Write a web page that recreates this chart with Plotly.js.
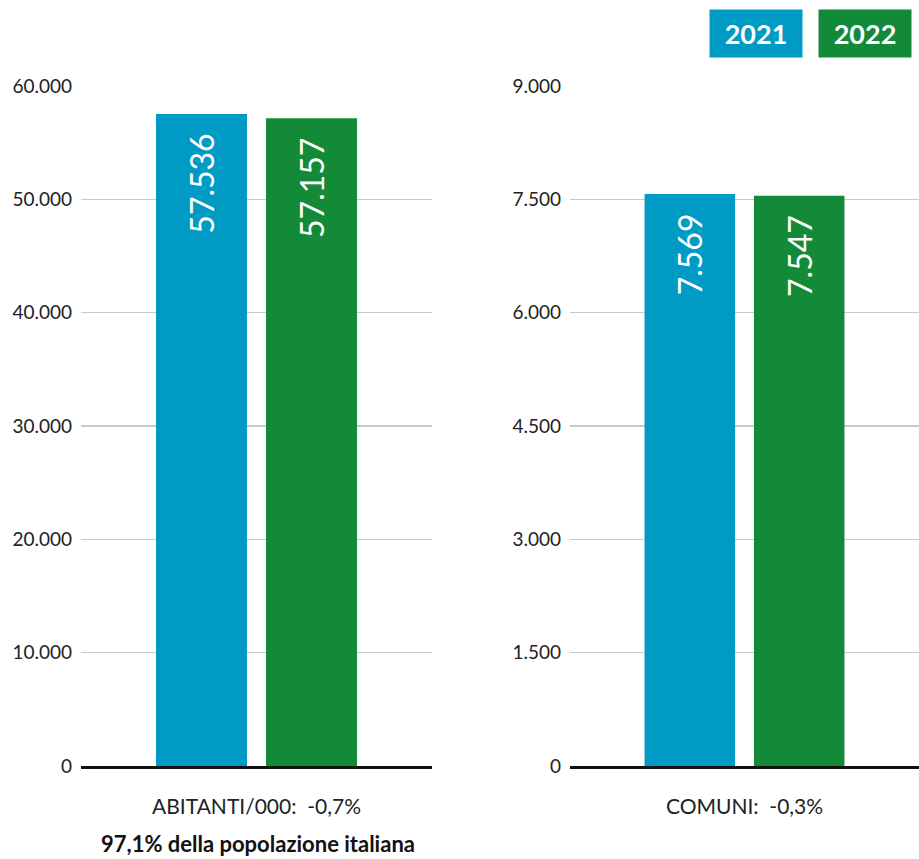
<!DOCTYPE html>
<html><head><meta charset="utf-8">
<script src="https://cdn.plot.ly/plotly-3.0.1.min.js"></script>
<style>html,body{margin:0;padding:0;background:#fff}</style>
</head><body>
<div id="chart" style="width:919px;height:859px"></div>
<script>
const years = ['2021', '2022'];
const leftCategory = ['ABITANTI/000:\u00a0\u00a0-0,7%'];
const rightCategory = ['COMUNI:\u00a0\u00a0-0,3%'];
const abitanti = [57536, 57157];
const comuni = [7569, 7547];
const leftTicks = [0, 10000, 20000, 30000, 40000, 50000, 60000];
const rightTicks = [0, 1500, 3000, 4500, 6000, 7500, 9000];
const note = '97,1% della popolazione italiana';
const colors = ['#009bc4', '#138a38'];

const FONT = 'Lato, "Open Sans", sans-serif';
const traces = [];
years.forEach((yr, i) => {
  traces.push({
    type: 'bar', x: leftCategory, y: [abitanti[i]], name: yr,
    marker: {color: colors[i]}, xaxis: 'x', yaxis: 'y',
    texttemplate: '%{y:,}\u00a0\u00a0', textposition: 'inside', insidetextanchor: 'end',
    textangle: -90, constraintext: 'none',
    textfont: {color: '#fff', size: 32, family: FONT}, showlegend: false, hoverinfo: 'skip'
  });
  traces.push({
    type: 'bar', x: rightCategory, y: [comuni[i]], name: yr,
    marker: {color: colors[i]}, xaxis: 'x2', yaxis: 'y2',
    texttemplate: '%{y:,}\u00a0\u00a0', textposition: 'inside', insidetextanchor: 'end',
    textangle: -90, constraintext: 'none',
    textfont: {color: '#fff', size: 32, family: FONT}, showlegend: false, hoverinfo: 'skip'
  });
});

const xBase = {
  showline: true, linecolor: '#111', linewidth: 2.5, showgrid: false, zeroline: false,
  ticks: 'outside', ticklen: 20, tickcolor: 'rgba(0,0,0,0)',
  tickfont: {size: 21, color: '#222', family: FONT}, fixedrange: true
};
const yBase = {
  showline: false, zeroline: false, showgrid: true, gridcolor: '#c8c8c8', gridwidth: 1.5,
  ticks: '', ticklabelstandoff: 8, tickformat: ',d',
  tickfont: {size: 19, color: '#222', family: FONT}, fixedrange: true
};

// paper coords relative to plot area: y=0 at 766px, y=1 at 86px
const py = px => (766 - px) / 680;
const annotations = years.map((yr, i) => ({
  xref: 'paper', yref: 'paper', x: (i === 0 ? 756 : 865) / 919, y: py(33.5),
  xanchor: 'center', yanchor: 'middle', text: '<b>' + yr + '</b>', showarrow: false,
  bgcolor: colors[i], width: 92, height: 47, borderpad: 0,
  font: {color: '#fff', size: 27, family: FONT}
}));
annotations.push({
  xref: 'paper', yref: 'paper', x: 258 / 919, y: py(843), xanchor: 'center', yanchor: 'middle',
  text: '<b>' + note + '</b>', showarrow: false, font: {size: 22, color: '#111', family: FONT}
});

const layout = {
  width: 919, height: 859, margin: {l: 0, r: 0, t: 86, b: 93},
  paper_bgcolor: '#fff', plot_bgcolor: '#fff', separators: ',.',
  barmode: 'group', bargap: 0.373, bargroupgap: 0.173, showlegend: false,
  font: {family: FONT},
  xaxis: Object.assign({}, xBase, {domain: [81 / 919, 432 / 919], anchor: 'y'}),
  xaxis2: Object.assign({}, xBase, {domain: [570 / 919, 1], anchor: 'y2'}),
  yaxis: Object.assign({}, yBase, {range: [0, 60000], tickvals: leftTicks, anchor: 'x'}),
  yaxis2: Object.assign({}, yBase, {range: [0, 9000], tickvals: rightTicks, anchor: 'x2'}),
  annotations: annotations
};
Plotly.newPlot('chart', traces, layout, {displayModeBar: false, staticPlot: true});
</script>
</body></html>
